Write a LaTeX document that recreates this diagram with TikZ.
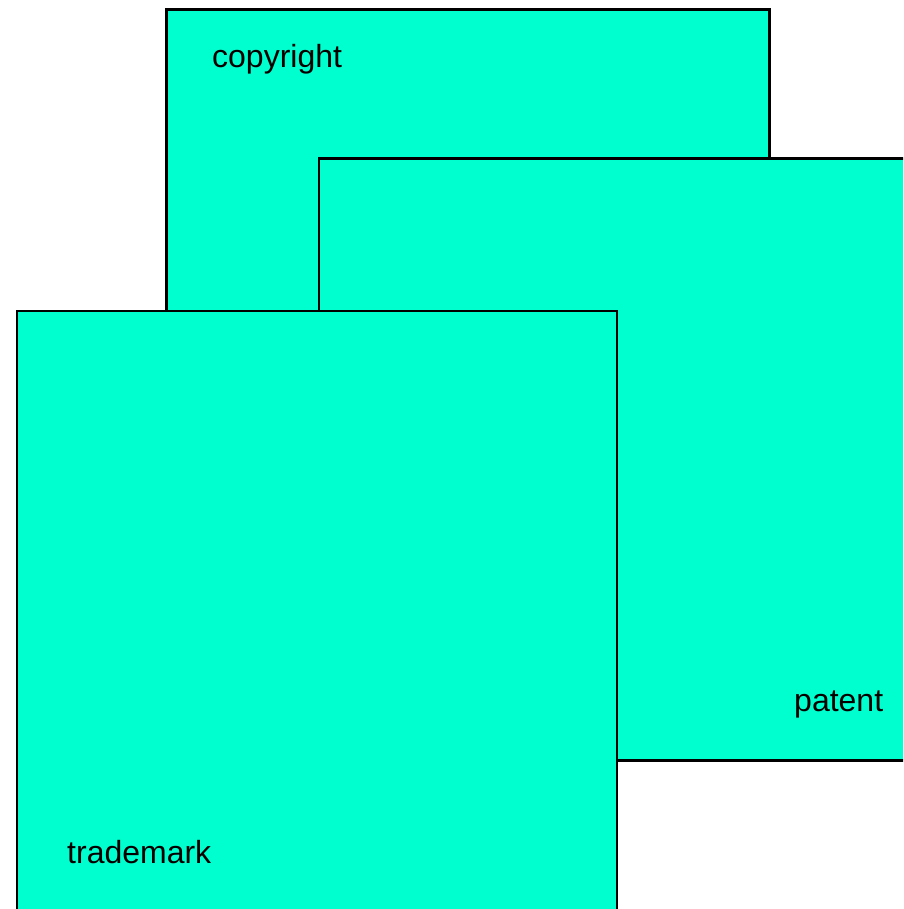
\documentclass[tikz,border=0pt]{standalone}
\usepackage{fontspec}
\setmainfont{Liberation Sans}
\definecolor{aqua}{RGB}{0,255,206}
\begin{document}
\begin{tikzpicture}[x=1pt,y=-1pt,
  sq/.style={draw=black, line width=2.6pt, fill=aqua, rectangle, inner sep=0pt,
    minimum width=602pt, minimum height=602pt, anchor=north west},
  lbl/.style={font=\fontsize{32}{38}\selectfont, anchor=base west, inner sep=0pt, text=black}]
\useasboundingbox (0,0) rectangle (903,909);
\clip (0,0) rectangle (903,909);
\node[sq, minimum width=603pt] (copyrightbox) at (165,8) {};
\node[lbl] (copyright) at (212,68) {copyright};
\node[sq] (patentbox) at (317.5,157) {};
\node[lbl] (patent) at (794,711) {patent};
\node[sq, minimum width=600pt] (trademarkbox) at (15.5,309.5) {};
\node[lbl] (trademark) at (67,863) {trademark};
\end{tikzpicture}
\end{document}
